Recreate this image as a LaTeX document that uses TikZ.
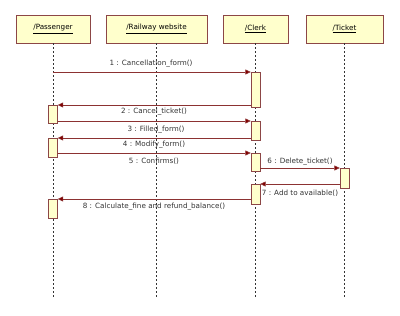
\documentclass[tikz,border=0pt]{standalone}
\usepackage{fontspec}
\setmainfont{DejaVu Sans}
\usepackage{xcolor}
\definecolor{boxfill}{RGB}{255,255,204}
\definecolor{boxline}{RGB}{140,70,70}
\definecolor{msgline}{RGB}{140,50,50}
\definecolor{tipred}{RGB}{128,0,0}
\usetikzlibrary{arrows.meta}

\begin{document}
\begin{tikzpicture}[x=1pt,y=-1pt,font=\fontsize{7.2}{8}\selectfont,line cap=butt]
	\tikzstyle{obj}=[draw=boxline,fill=boxfill,rectangle,minimum height=28pt,inner sep=0pt];
	\tikzstyle{act}=[draw=boxline,fill=boxfill,rectangle,minimum width=9pt,inner sep=0pt,anchor=north];
	\tikzstyle{life}=[gray!40!black,dash pattern=on 2pt off 2pt,line width=.5pt];
	\tikzstyle{msg}=[msgline,line width=.6pt,-{Triangle[length=5.5pt,width=5pt,fill=tipred]}];
	\tikzstyle{lbl}=[inner sep=0pt,text=black!80];
	\useasboundingbox (0,0) rectangle (400,316);
	% objects
	\node[obj,minimum width=74pt]  (pas) at (53,29)    {\underline{/Passenger}};
	\node[obj,minimum width=101pt] (web) at (156.5,29) {\underline{/Railway website}};
	\node[obj,minimum width=65pt]  (clk) at (255.5,29) {\underline{/Clerk}};
	\node[obj,minimum width=77pt]  (tkt) at (344.5,29) {\underline{/Ticket}};
	% lifelines
	\coordinate (pasEnd) at (53,297);
	\coordinate (webEnd) at (156.5,297);
	\coordinate (clkEnd) at (255.5,297);
	\coordinate (tktEnd) at (344.5,297);
	\draw[life] (pas.south) -- (pasEnd);
	\draw[life] (web.south) -- (webEnd);
	\draw[life] (clk.south) -- (clkEnd);
	\draw[life] (tkt.south) -- (tktEnd);
	% activations
	\node[act,minimum height=35pt] (c1) at (255.5,72)  {};
	\node[act,minimum height=18pt] (p1) at (53,105)    {};
	\node[act,minimum height=19pt] (c2) at (255.5,121) {};
	\node[act,minimum height=19pt] (p2) at (53,138)    {};
	\node[act,minimum height=18pt] (c3) at (255.5,153) {};
	\node[act,minimum height=20pt] (t1) at (344.5,168) {};
	\node[act,minimum height=20pt] (c4) at (255.5,184) {};
	\node[act,minimum height=19pt] (p3) at (53,199)    {};
	% messages
	\draw[msg] (pas |- c1.north) -- (c1.north west);
	\draw[msg] (c1.west |- p1.north) -- (p1.north east);
	\draw[msg] (p1.east |- c2.north) -- (c2.north west);
	\draw[msg] (c2.west |- p2.north) -- (p2.north east);
	\draw[msg] (p2.east |- c3.north) -- (c3.north west);
	\draw[msg] (c3.east |- t1.north) -- (t1.north west);
	\draw[msg] (t1.west |- c4.north) -- (c4.north east);
	\draw[msg] (c4.west |- p3.north) -- (p3.north east);
	% labels
	\node[lbl] (l1) at (151,64)  {1 : Cancellation\_form()};
	\node[lbl] (l2) at (154,112) {2 : Cancel\_ticket()};
	\node[lbl] (l3) at (156,130) {3 : Filled\_form()};
	\node[lbl] (l4) at (154,145) {4 : Modify\_form()};
	\node[lbl] (l5) at (154,161) {5 : Confirms()};
	\node[lbl] (l6) at (300,162) {6 : Delete\_ticket()};
	\node[lbl] (l7) at (300,193) {7 : Add to available()};
	\node[lbl] (l8) at (154,207) {8 : Calculate\_fine and refund\_balance()};
\end{tikzpicture}
\end{document}
